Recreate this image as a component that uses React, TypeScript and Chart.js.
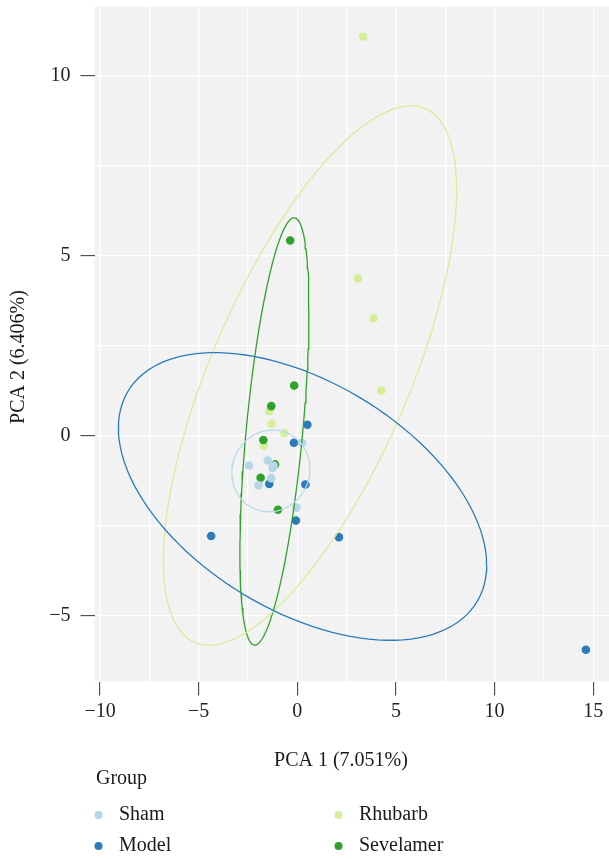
import React, { useEffect, useRef } from "react";
import { Chart, registerables } from "chart.js";

Chart.register(...registerables);

// ---- data ----
const groups = ["Sham", "Model", "Rhubarb", "Sevelamer"];
const groupColors = ["#B4D6E7", "#2B7BBA", "#D5EE98", "#30A22B"];
const lineColors = ["#B9D8E8", "#2B7BBA", "#D5EE98", "#30A22B"];

const shamX = [0.24, -2.45, -1.5, -1.25, -1.2, -1.32, -1.96, -0.05];
const shamY = [-0.19, -0.82, -0.68, -0.89, -0.82, -1.17, -1.37, -1.99];

const modelX = [0.51, -0.17, -1.42, 0.41, -0.07, -4.37, 2.11, 14.63];
const modelY = [0.31, -0.19, -1.33, -1.35, -2.35, -2.78, -2.81, -5.94];

const rhubarbX = [-1.42, -1.3, -0.66, -1.7, 3.33, 3.08, 3.87, 4.26];
const rhubarbY = [0.69, 0.34, 0.08, -0.27, 11.09, 4.38, 3.27, 1.26];

const sevelamerX = [-0.36, -0.16, -1.32, -1.72, -1.13, -1.86, -0.98];
const sevelamerY = [5.43, 1.4, 0.83, -0.11, -0.79, -1.16, -2.05];

// 95% ellipse outlines per group: centre, half extents along x / y, and x-y coupling
const ellipseCenterX = [-1.34, 0.265, 0.645, -1.16];
const ellipseCenterY = [-0.97, -1.68, 1.68, 0.125];
const ellipseHalfX = [1.98, 9.335, 7.435, 1.75];
const ellipseHalfY = [1.135, 3.995, 7.49, 5.935];
const ellipseCoupling = [0.05, -0.476, 0.688, 0.57];

const xTicks = [-10, -7.5, -5, -2.5, 0, 2.5, 5, 7.5, 10, 12.5, 15];
const yTicks = [-5, -2.5, 0, 2.5, 5, 7.5, 10];
const xRange = [-10.28, 15.8];
const yRange = [-6.82, 11.93];

const xTitle = "PCA 1 (7.051%)";
const yTitle = "PCA 2 (6.406%)";
const legendTitle = "Group";

const FONT = "'Liberation Serif', 'Times New Roman', serif";

function toPoints(xs: number[], ys: number[]) {
  return xs.map((x, i) => ({ x, y: ys[i] }));
}

function ellipseOutline(i: number) {
  const pts: { x: number; y: number }[] = [];
  const n = 120;
  const r = ellipseCoupling[i];
  const s = Math.sqrt(1 - r * r);
  for (let k = 0; k <= n; k++) {
    const t = (k / n) * Math.PI * 2;
    pts.push({
      x: ellipseCenterX[i] + ellipseHalfX[i] * Math.cos(t),
      y: ellipseCenterY[i] + ellipseHalfY[i] * (r * Math.cos(t) + s * Math.sin(t)),
    });
  }
  return pts;
}

function fmt(v: number) {
  return v < 0 ? "\u2212" + Math.abs(v) : String(v);
}

const isMajor = (v: number) => Math.abs(v % 5) < 1e-9;

export default function App() {
  const ref = useRef<HTMLCanvasElement | null>(null);

  useEffect(() => {
    document.body.style.margin = "0";
    const canvas = ref.current;
    if (!canvas) return;

    const pointSets = [
      toPoints(shamX, shamY),
      toPoints(modelX, modelY),
      toPoints(rhubarbX, rhubarbY),
      toPoints(sevelamerX, sevelamerY),
    ];
    const pointOrder = [1, 2, 4, 3];

    const datasets: any[] = [];
    groups.forEach((g, i) => {
      datasets.push({
        type: "scatter",
        label: g,
        data: pointSets[i],
        backgroundColor: groupColors[i],
        borderWidth: 0,
        pointRadius: 4.3,
        pointHoverRadius: 4.3,
        order: pointOrder[i],
      });
    });
    groups.forEach((g, i) => {
      datasets.push({
        type: "scatter",
        label: g + " ellipse",
        data: ellipseOutline(i),
        showLine: true,
        borderColor: lineColors[i],
        borderWidth: 1.3,
        pointRadius: 0,
        fill: false,
        tension: 0,
        order: 0,
      });
    });

    const panelPlugin = {
      id: "panel",
      beforeDraw(chart: any) {
        const { ctx, chartArea } = chart;
        ctx.save();
        ctx.fillStyle = "#F2F2F2";
        ctx.fillRect(chartArea.left, chartArea.top, chartArea.right - chartArea.left, chartArea.bottom - chartArea.top);
        ctx.restore();
      },
      afterDraw(chart: any) {
        const { ctx } = chart;
        ctx.save();
        ctx.fillStyle = "#1a1a1a";
        ctx.font = `20px ${FONT}`;
        ctx.textBaseline = "middle";
        // axis titles
        ctx.textAlign = "center";
        ctx.fillText(xTitle, 341, 761);
        ctx.save();
        ctx.translate(19, 357);
        ctx.rotate(-Math.PI / 2);
        ctx.fillText(yTitle, 0, 0);
        ctx.restore();
        // legend
        ctx.textAlign = "left";
        ctx.fillText(legendTitle, 96, 779);
        const colX = [98.5, 338.5];
        const rowY = [815, 846];
        groups.forEach((g, i) => {
          const cx = colX[Math.floor(i / 2)];
          const cy = rowY[i % 2];
          ctx.beginPath();
          ctx.fillStyle = groupColors[i];
          ctx.arc(cx, cy, 4, 0, Math.PI * 2);
          ctx.fill();
          ctx.fillStyle = "#1a1a1a";
          ctx.fillText(g, cx + 20.5, cy);
        });
        ctx.restore();
      },
    };

    const chart = new Chart(canvas, {
      type: "scatter",
      data: { datasets },
      options: {
        responsive: false,
        animation: false,
        layout: { autoPadding: false, padding: { top: 6.5, right: 0, left: 0, bottom: 0 } },
        plugins: {
          legend: { display: false },
          tooltip: { enabled: false },
        },
        scales: {
          x: {
            type: "linear",
            min: xRange[0],
            max: xRange[1],
            afterBuildTicks: (axis: any) => {
              axis.ticks = xTicks.map((v) => ({ value: v }));
            },
            afterFit: (scale: any) => {
              scale.height = 177.5;
              scale.paddingLeft = 0;
              scale.paddingRight = 0;
            },
            border: { display: false },
            grid: {
              color: "#FFFFFF",
              lineWidth: 1.3,
              tickLength: 14,
              tickWidth: 1,
              tickColor: (c: any) => (c.tick && isMajor(c.tick.value) ? "#333333" : "rgba(0,0,0,0)"),
            },
            ticks: {
              autoSkip: false,
              maxRotation: 0,
              padding: 4,
              color: "#222222",
              font: { family: FONT, size: 20 },
              callback: (v: any) => (isMajor(Number(v)) ? fmt(Number(v)) : ""),
            },
          },
          y: {
            type: "linear",
            min: yRange[0],
            max: yRange[1],
            afterBuildTicks: (axis: any) => {
              axis.ticks = yTicks.map((v) => ({ value: v }));
            },
            afterFit: (scale: any) => {
              scale.width = 94.5;
              scale.paddingTop = 0;
              scale.paddingBottom = 0;
            },
            border: { display: false },
            grid: {
              color: "#FFFFFF",
              lineWidth: 1.3,
              tickLength: 14,
              tickWidth: 1,
              tickColor: (c: any) => (c.tick && isMajor(c.tick.value) ? "#333333" : "rgba(0,0,0,0)"),
            },
            ticks: {
              autoSkip: false,
              padding: 10,
              color: "#222222",
              font: { family: FONT, size: 20 },
              callback: (v: any) => (isMajor(Number(v)) ? fmt(Number(v)) : ""),
            },
          },
        },
      },
      plugins: [panelPlugin],
    } as any);

    return () => chart.destroy();
  }, []);

  return (
    <div style={{ width: 609, height: 859 }}>
      <canvas ref={ref} width={609} height={859} style={{ display: "block" }} />
    </div>
  );
}
